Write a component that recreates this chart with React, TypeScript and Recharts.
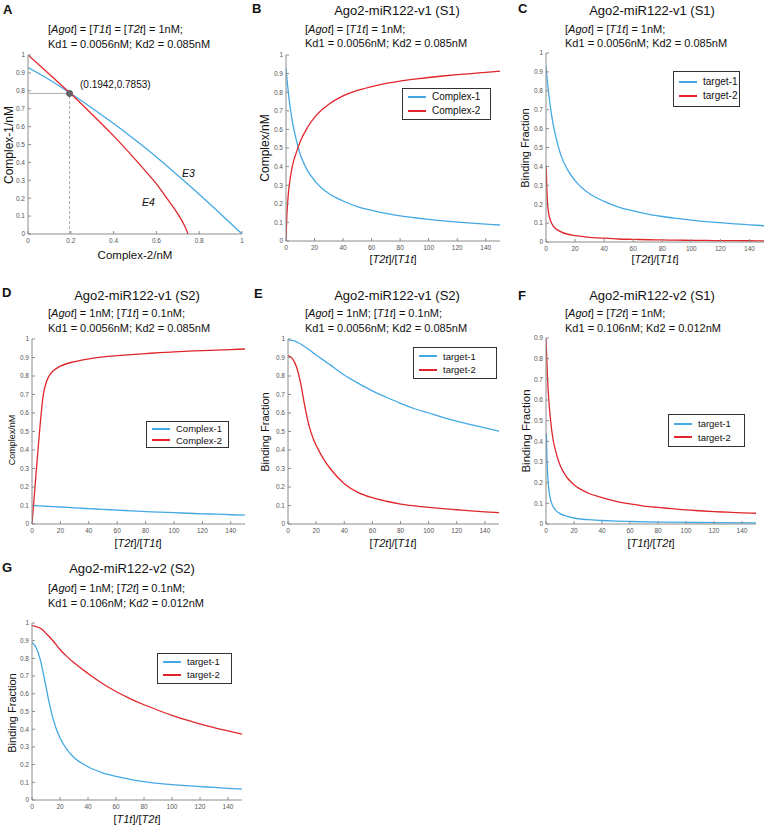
import React from 'react';
import { LineChart, Line, XAxis, YAxis, ReferenceLine, ReferenceDot } from 'recharts';

const FONT = '"Liberation Sans", Arial, Helvetica, sans-serif';
const BLUE = '#43A9E5';
const RED = '#E0262B';
const FRAME = '#8c8c8c';

// ---- tick labels ----
const yTicks10 = [0, 0.1, 0.2, 0.3, 0.4, 0.5, 0.6, 0.7, 0.8, 0.9, 1];
const yTicks09 = [0, 0.1, 0.2, 0.3, 0.4, 0.5, 0.6, 0.7, 0.8, 0.9];
const xTicksA = [0, 0.2, 0.4, 0.6, 0.8, 1];
const xTicksRatio = [0, 20, 40, 60, 80, 100, 120, 140];

// ---- Panel A ----
const aE3X = [0, 0.1, 0.2, 0.3, 0.4, 0.5, 0.6, 0.7, 0.8, 0.9, 1.0];
const aE3Y = [0.93, 0.862, 0.785, 0.703, 0.617, 0.526, 0.43, 0.327, 0.222, 0.112, 0];
const aE4X = [0, 0.1, 0.2, 0.3, 0.4, 0.5, 0.55, 0.6, 0.65, 0.7, 0.73, 0.748];
const aE4Y = [1.0, 0.893, 0.783, 0.668, 0.548, 0.418, 0.35, 0.28, 0.198, 0.112, 0.05, 0];
const aCross = { x: 0.1942, y: 0.7853 };

// ---- Panel B ----
const bX = [0, 0.5, 1, 2, 3, 5, 7, 10, 15, 20, 30, 40, 50, 60, 70, 80, 90, 100, 110, 120, 130, 140, 150];
const bComplex1 = [0.93, 0.885, 0.845, 0.775, 0.715, 0.62, 0.55, 0.465, 0.38, 0.325, 0.255, 0.215, 0.185, 0.165, 0.148, 0.135, 0.125, 0.116, 0.108, 0.102, 0.096, 0.091, 0.086];
const bComplex2 = [0, 0.12, 0.19, 0.28, 0.34, 0.42, 0.47, 0.535, 0.61, 0.665, 0.735, 0.78, 0.81, 0.83, 0.847, 0.86, 0.87, 0.879, 0.887, 0.894, 0.9, 0.907, 0.913];

// ---- Panel C ----
const cX1 = [0, 0.5, 1, 2, 3, 5, 7, 10, 15, 20, 30, 40, 50, 60, 70, 80, 90, 100, 110, 120, 130, 140, 150];
const cTarget1 = [0.93, 0.885, 0.845, 0.775, 0.715, 0.62, 0.55, 0.465, 0.38, 0.325, 0.255, 0.215, 0.185, 0.165, 0.148, 0.135, 0.125, 0.116, 0.108, 0.102, 0.096, 0.091, 0.086];
const cX2 = [0.2, 0.5, 1, 2, 3, 5, 7, 10, 15, 20, 30, 40, 50, 60, 70, 80, 90, 100, 110, 120, 130, 140, 150];
const cTarget2 = [0.4, 0.3, 0.21, 0.145, 0.115, 0.084, 0.069, 0.055, 0.041, 0.034, 0.025, 0.02, 0.016, 0.014, 0.012, 0.0108, 0.0097, 0.0088, 0.0081, 0.0075, 0.0069, 0.0065, 0.0061];

// ---- Panel D ----
const dX = [0, 2, 4, 6, 8, 10, 12, 15, 20, 30, 40, 50, 60, 70, 80, 90, 100, 110, 120, 130, 140, 150];
const dComplex1 = [0.1, 0.1, 0.099, 0.098, 0.097, 0.096, 0.095, 0.094, 0.092, 0.087, 0.083, 0.079, 0.075, 0.071, 0.067, 0.064, 0.061, 0.058, 0.055, 0.053, 0.05, 0.048];
const dComplex2 = [0, 0.19, 0.38, 0.56, 0.7, 0.765, 0.8, 0.828, 0.853, 0.878, 0.893, 0.903, 0.91, 0.916, 0.921, 0.926, 0.93, 0.934, 0.937, 0.94, 0.943, 0.946];

// ---- Panel E ----
const eX = [0, 3, 6, 9, 12, 15, 18, 21, 25, 30, 40, 50, 60, 70, 80, 90, 100, 110, 120, 130, 140, 150];
const eTarget1 = [0.995, 0.992, 0.985, 0.973, 0.958, 0.942, 0.925, 0.908, 0.887, 0.86, 0.805, 0.76, 0.72, 0.685, 0.652, 0.623, 0.6, 0.577, 0.556, 0.537, 0.519, 0.502];
const eTarget2 = [0.91, 0.895, 0.85, 0.76, 0.635, 0.53, 0.46, 0.41, 0.355, 0.3, 0.218, 0.17, 0.142, 0.123, 0.108, 0.098, 0.09, 0.083, 0.077, 0.071, 0.066, 0.062];

// ---- Panel F ----
const fX1 = [0.3, 0.5, 1, 2, 3, 5, 7, 10, 15, 20, 30, 40, 50, 60, 80, 100, 120, 150];
const fTarget1 = [0.44, 0.36, 0.26, 0.17, 0.125, 0.085, 0.066, 0.05, 0.037, 0.029, 0.021, 0.017, 0.014, 0.012, 0.0095, 0.0078, 0.0066, 0.0054];
const fX2 = [0, 1, 2, 3, 5, 7, 10, 15, 20, 30, 40, 50, 60, 70, 80, 90, 100, 110, 120, 130, 140, 150];
const fTarget2 = [0.9, 0.72, 0.6, 0.52, 0.41, 0.35, 0.285, 0.225, 0.19, 0.15, 0.128, 0.11, 0.097, 0.087, 0.08, 0.074, 0.068, 0.064, 0.06, 0.057, 0.054, 0.052];

// ---- Panel G ----
const gX = [0, 3, 6, 9, 12, 15, 20, 25, 30, 40, 50, 60, 70, 80, 90, 100, 110, 120, 130, 140, 150];
const gTarget1 = [0.89, 0.86, 0.79, 0.68, 0.56, 0.46, 0.35, 0.285, 0.24, 0.188, 0.155, 0.133, 0.117, 0.104, 0.094, 0.087, 0.081, 0.076, 0.071, 0.066, 0.062];
const gTarget2 = [0.985, 0.98, 0.97, 0.95, 0.925, 0.9, 0.85, 0.81, 0.775, 0.715, 0.66, 0.613, 0.573, 0.538, 0.507, 0.478, 0.452, 0.43, 0.409, 0.39, 0.372];

const zip = (xs: number[], ys: number[]) => xs.map((x, i) => ({ x, y: ys[i] }));

type Box = { l: number; t: number; r: number; b: number };
type Series = { name: string; color: string; data: { x: number; y: number }[] };

const tickStyle = { fontSize: 6.5, fill: '#555', fontFamily: FONT };

function Panel({ box, xDomain, xTicks, yDomain, yTicks, series, children }: {
  box: Box; xDomain: number[]; xTicks: number[]; yDomain: number[]; yTicks: number[]; series: Series[]; children?: any;
}) {
  const L = 30, T = 4, R = 4, B = 16;
  const w = box.r - box.l, h = box.b - box.t;
  return (
    <div style={{ position: 'absolute', left: box.l - L, top: box.t - T }}>
      <LineChart width={w + L + R} height={h + T + B} margin={{ top: T, right: R, left: 0, bottom: 0 }}>
        <XAxis xAxisId="b" type="number" dataKey="x" domain={xDomain} ticks={xTicks} allowDataOverflow
          height={B} tick={tickStyle} tickSize={-3} tickMargin={7} stroke={FRAME} interval={0} />
        <XAxis xAxisId="t" orientation="top" type="number" dataKey="x" domain={xDomain} ticks={xTicks} allowDataOverflow
          height={0} tick={false} tickSize={-3} stroke={FRAME} interval={0} />
        <YAxis yAxisId="l" type="number" domain={yDomain} ticks={yTicks} allowDataOverflow
          width={L} tick={tickStyle} tickSize={-3} tickMargin={6} stroke={FRAME} interval={0} />
        <YAxis yAxisId="r" orientation="right" type="number" domain={yDomain} ticks={yTicks} allowDataOverflow
          width={0} tick={false} tickSize={-3} stroke={FRAME} interval={0} />
        {series.map((s) => (
          <Line key={s.name} xAxisId="b" yAxisId="l" data={s.data} dataKey="y" name={s.name} type="monotone"
            stroke={s.color} strokeWidth={1.3} dot={false} isAnimationActive={false} />
        ))}
        {children}
      </LineChart>
    </div>
  );
}

function Txt({ x, y, size = 11, anchor = 'start', weight, rotate, children }: any) {
  let transform = anchor === 'middle' ? 'translate(-50%,-50%)' : 'translateY(-50%)';
  if (rotate) transform += ' rotate(-90deg)';
  return (
    <div style={{ position: 'absolute', left: x, top: y, fontSize: size, fontFamily: FONT, whiteSpace: 'nowrap',
      lineHeight: 1, transform, fontWeight: weight, color: '#111' }}>{children}</div>
  );
}

function LegendBox({ l, t, r, b, items, size = 9 }: { l: number; t: number; r: number; b: number; items: { name: string; color: string }[]; size?: number }) {
  return (
    <div style={{ position: 'absolute', left: l, top: t, width: r - l, height: b - t, border: '1px solid #333',
      background: '#fff', boxSizing: 'border-box', display: 'flex', flexDirection: 'column', justifyContent: 'space-evenly',
      paddingLeft: 5, fontFamily: FONT, fontSize: size, color: '#111' }}>
      {items.map((it) => (
        <div key={it.name} style={{ display: 'flex', alignItems: 'center', lineHeight: 1 }}>
          <span style={{ display: 'inline-block', width: 18, height: 2, background: it.color, marginRight: 6 }} />
          <span>{it.name}</span>
        </div>
      ))}
    </div>
  );
}

const I = ({ children }: any) => <i>{children}</i>;

const boxA: Box = { l: 28, t: 55, r: 242, b: 234 };
const boxB: Box = { l: 286, t: 55, r: 500, b: 241 };
const boxC: Box = { l: 546, t: 53, r: 764, b: 242 };
const boxD: Box = { l: 32, t: 339, r: 245, b: 524 };
const boxE: Box = { l: 288, t: 339, r: 499, b: 524 };
const boxF: Box = { l: 546, t: 338, r: 756, b: 524 };
const boxG: Box = { l: 32, t: 623, r: 242, b: 800 };

const ratioDomain = [0, 150];

export default function App() {
  const c1 = { name: 'Complex-1', color: BLUE };
  const c2 = { name: 'Complex-2', color: RED };
  const t1 = { name: 'target-1', color: BLUE };
  const t2 = { name: 'target-2', color: RED };
  const kdV1 = 'Kd1 = 0.0056nM; Kd2 = 0.085nM';
  const kdV2 = 'Kd1 = 0.106nM; Kd2 = 0.012nM';
  const ratio21 = <span>[<I>T2t</I>]/[<I>T1t</I>]</span>;
  const ratio12 = <span>[<I>T1t</I>]/[<I>T2t</I>]</span>;
  return (
    <div style={{ position: 'absolute', left: 0, top: 0, width: 769, height: 825, background: '#fff', overflow: 'hidden' }}>
      {/* Panel A */}
      <Panel box={boxA} xDomain={[0, 1]} xTicks={xTicksA} yDomain={[0, 1]} yTicks={yTicks10}
        series={[{ name: 'E3', color: BLUE, data: zip(aE3X, aE3Y) }, { name: 'E4', color: RED, data: zip(aE4X, aE4Y) }]}>
        <ReferenceLine xAxisId="b" yAxisId="l" segment={[{ x: aCross.x, y: 0 }, { x: aCross.x, y: aCross.y }]}
          stroke="#999" strokeDasharray="3 2" strokeWidth={0.8} />
        <ReferenceLine xAxisId="b" yAxisId="l" segment={[{ x: 0, y: aCross.y }, { x: aCross.x, y: aCross.y }]}
          stroke="#999" strokeWidth={0.8} />
        <ReferenceDot xAxisId="b" yAxisId="l" x={aCross.x} y={aCross.y} r={3} fill="#666" stroke="#555" />
      </Panel>
      <Txt x={3} y={9} size={13} weight="bold">A</Txt>
      <Txt x={48} y={29}>[<I>Agot</I>] = [<I>T1t</I>] = [<I>T2t</I>] = 1nM;</Txt>
      <Txt x={48} y={44}>{kdV1}</Txt>
      <Txt x={80} y={85} size={10}>(0.1942,0.7853)</Txt>
      <Txt x={182} y={173} size={10.5}><I>E3</I></Txt>
      <Txt x={142} y={202} size={10.5}><I>E4</I></Txt>
      <Txt x={135} y={256} size={11.5} anchor="middle">Complex-2/nM</Txt>
      <Txt x={9} y={145} size={12} anchor="middle" rotate>Complex-1/nM</Txt>

      {/* Panel B */}
      <Panel box={boxB} xDomain={ratioDomain} xTicks={xTicksRatio} yDomain={[0, 1]} yTicks={yTicks10}
        series={[{ ...c1, data: zip(bX, bComplex1) }, { ...c2, data: zip(bX, bComplex2) }]} />
      <LegendBox l={402} t={88} r={491} b={120} items={[c1, c2]} size={10} />
      <Txt x={252} y={8} size={13} weight="bold">B</Txt>
      <Txt x={397} y={10} size={13} anchor="middle">Ago2-miR122-v1 (S1)</Txt>
      <Txt x={305} y={29}>[<I>Agot</I>] = [<I>T1t</I>] = 1nM;</Txt>
      <Txt x={305} y={43}>{kdV1}</Txt>
      <Txt x={393} y={259} size={11} anchor="middle">{ratio21}</Txt>
      <Txt x={265} y={148} size={12} anchor="middle" rotate>Complex/nM</Txt>

      {/* Panel C */}
      <Panel box={boxC} xDomain={ratioDomain} xTicks={xTicksRatio} yDomain={[0, 1]} yTicks={yTicks10}
        series={[{ ...t1, data: zip(cX1, cTarget1) }, { ...t2, data: zip(cX2, cTarget2) }]} />
      <LegendBox l={673} t={71} r={740} b={107} items={[t1, t2]} size={10} />
      <Txt x={518} y={8} size={13} weight="bold">C</Txt>
      <Txt x={652} y={10} size={13} anchor="middle">Ago2-miR122-v1 (S1)</Txt>
      <Txt x={565} y={29}>[<I>Agot</I>] = [<I>T1t</I>] = 1nM;</Txt>
      <Txt x={565} y={43}>{kdV1}</Txt>
      <Txt x={655} y={259} size={11} anchor="middle">{ratio21}</Txt>
      <Txt x={525} y={148} size={11} anchor="middle" rotate>Binding Fraction</Txt>

      {/* Panel D */}
      <Panel box={boxD} xDomain={ratioDomain} xTicks={xTicksRatio} yDomain={[0, 1]} yTicks={yTicks10}
        series={[{ ...c1, data: zip(dX, dComplex1) }, { ...c2, data: zip(dX, dComplex2) }]} />
      <LegendBox l={146} t={421} r={229} b={448} items={[c1, c2]} size={9.5} />
      <Txt x={2} y={292} size={13} weight="bold">D</Txt>
      <Txt x={137} y={295} size={13} anchor="middle">Ago2-miR122-v1 (S2)</Txt>
      <Txt x={48} y={313}>[<I>Agot</I>] =  1nM; [<I>T1t</I>] = 0.1nM;</Txt>
      <Txt x={48} y={328}>{kdV1}</Txt>
      <Txt x={138} y={543} size={11} anchor="middle">{ratio21}</Txt>
      <Txt x={12} y={440} size={9} anchor="middle" rotate>Complex/nM</Txt>

      {/* Panel E */}
      <Panel box={boxE} xDomain={ratioDomain} xTicks={xTicksRatio} yDomain={[0, 1]} yTicks={yTicks10}
        series={[{ ...t1, data: zip(eX, eTarget1) }, { ...t2, data: zip(eX, eTarget2) }]} />
      <LegendBox l={413} t={347} r={497} b={379} items={[t1, t2]} size={9.5} />
      <Txt x={254} y={293} size={13} weight="bold">E</Txt>
      <Txt x={397} y={295} size={13} anchor="middle">Ago2-miR122-v1 (S2)</Txt>
      <Txt x={305} y={313}>[<I>Agot</I>] =  1nM; [<I>T1t</I>] = 0.1nM;</Txt>
      <Txt x={305} y={328}>{kdV1}</Txt>
      <Txt x={393} y={543} size={11} anchor="middle">{ratio21}</Txt>
      <Txt x={265} y={432} size={11} anchor="middle" rotate>Binding Fraction</Txt>

      {/* Panel F */}
      <Panel box={boxF} xDomain={ratioDomain} xTicks={xTicksRatio} yDomain={[0, 0.9]} yTicks={yTicks09}
        series={[{ ...t1, data: zip(fX1, fTarget1) }, { ...t2, data: zip(fX2, fTarget2) }]} />
      <LegendBox l={668} t={414} r={745} b={447} items={[t1, t2]} size={9.5} />
      <Txt x={518} y={295} size={13} weight="bold">F</Txt>
      <Txt x={652} y={295} size={13} anchor="middle">Ago2-miR122-v2 (S1)</Txt>
      <Txt x={565} y={313}>[<I>Agot</I>] = [<I>T2t</I>] = 1nM;</Txt>
      <Txt x={565} y={328}>{kdV2}</Txt>
      <Txt x={651} y={543} size={11} anchor="middle">{ratio12}</Txt>
      <Txt x={527} y={431} size={11.5} anchor="middle" rotate>Binding Fraction</Txt>

      {/* Panel G */}
      <Panel box={boxG} xDomain={ratioDomain} xTicks={xTicksRatio} yDomain={[0, 1]} yTicks={yTicks10}
        series={[{ ...t1, data: zip(gX, gTarget1) }, { ...t2, data: zip(gX, gTarget2) }]} />
      <LegendBox l={157} t={653} r={232} b={684} items={[t1, t2]} size={9.5} />
      <Txt x={2} y={567} size={13} weight="bold">G</Txt>
      <Txt x={132} y={568} size={13} anchor="middle">Ago2-miR122-v2 (S2)</Txt>
      <Txt x={48} y={588}>[<I>Agot</I>] = 1nM; [<I>T2t</I>] = 0.1nM;</Txt>
      <Txt x={48} y={603}>{kdV2}</Txt>
      <Txt x={137} y={819} size={11} anchor="middle">{ratio12}</Txt>
      <Txt x={12} y={713} size={11} anchor="middle" rotate>Binding Fraction</Txt>
    </div>
  );
}
